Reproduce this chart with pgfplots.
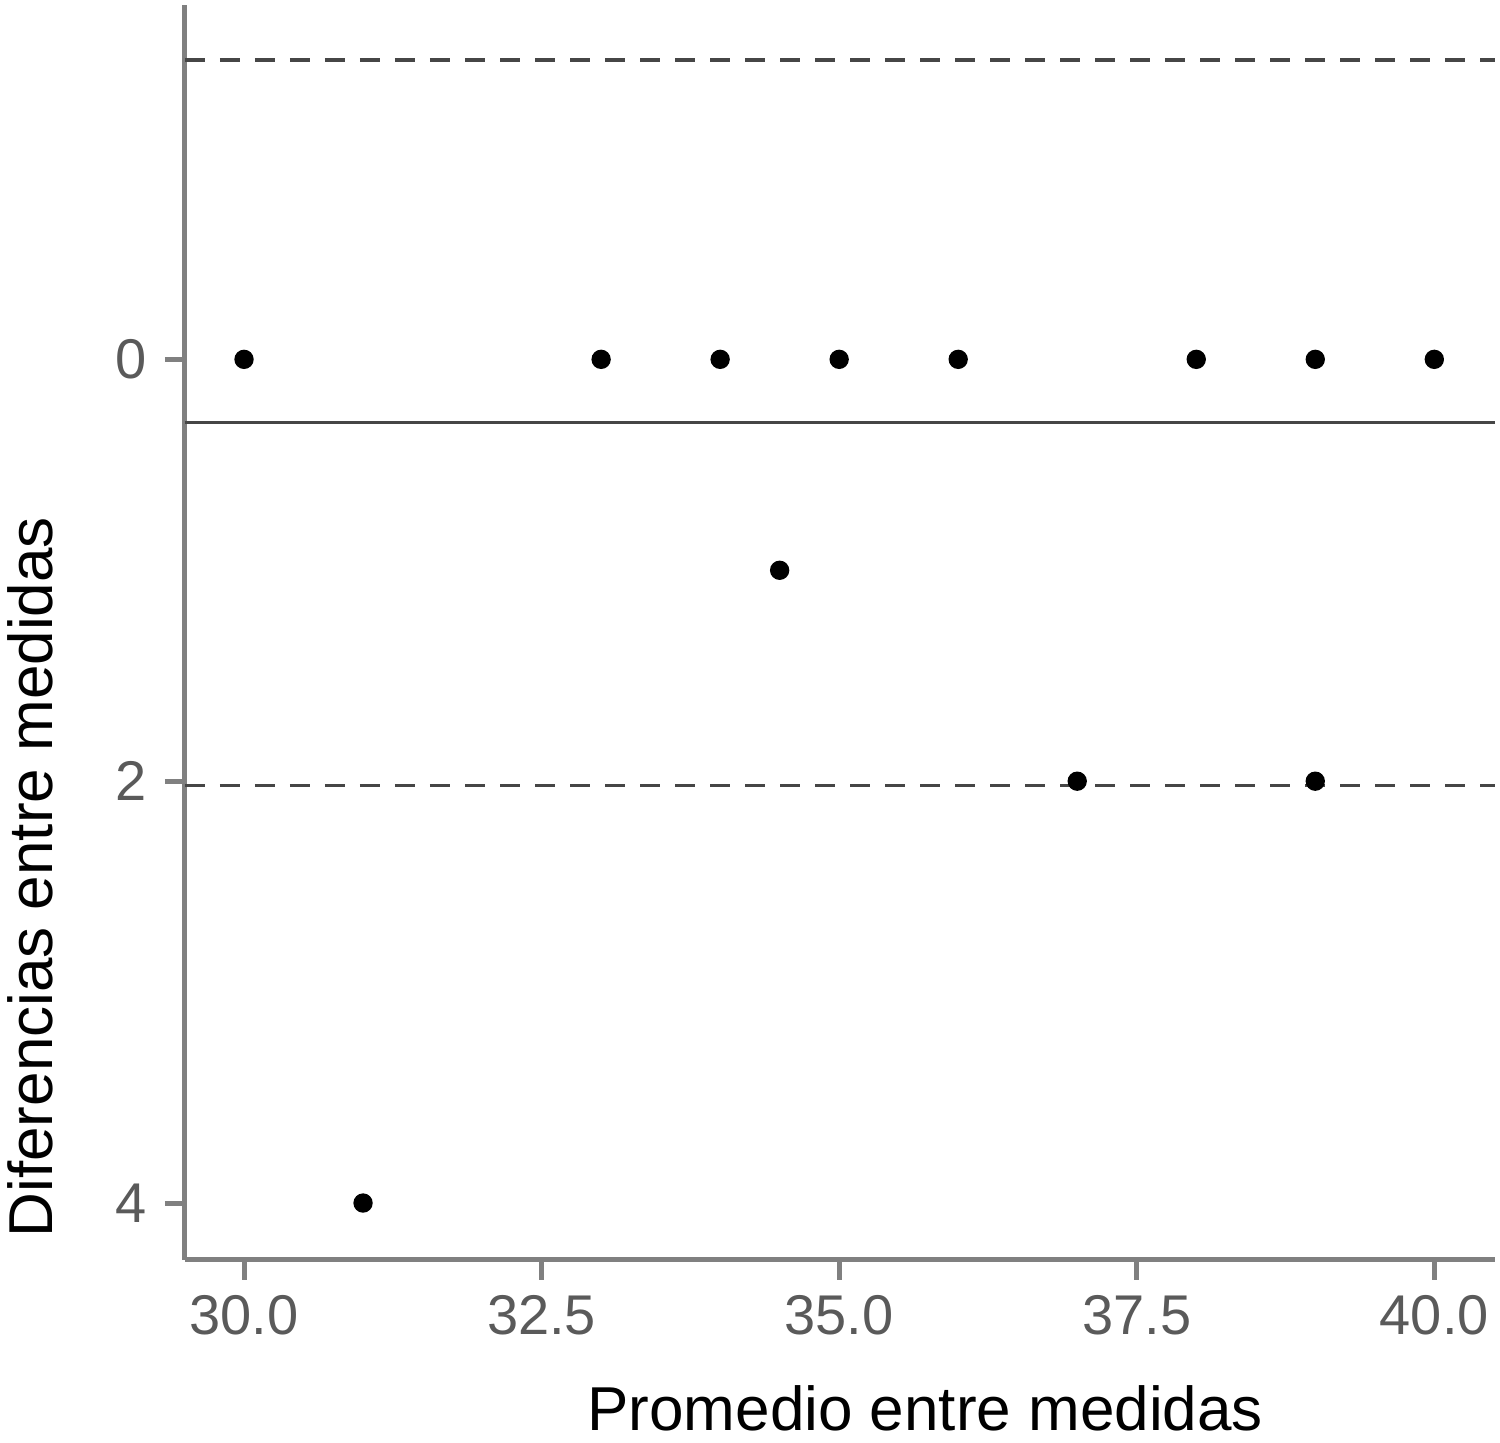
\documentclass[border=0pt]{standalone}
\usepackage{fontspec}
\setmainfont{Liberation Sans}
\usepackage{pgfplots}
\pgfplotsset{compat=1.18}

\definecolor{axisgray}{RGB}{128,128,128}
\definecolor{ticktext}{RGB}{90,90,90}
\definecolor{refline}{RGB}{70,70,70}

\begin{document}
\begin{tikzpicture}
\begin{axis}[
    name=ax,
    at={(0,0)}, anchor=south west,
    scale only axis,
    width=393pt, height=376.5pt,
    xmin=29.504, xmax=40.51,
    ymin=-4.27, ymax=1.68,
    axis lines*=left,
    axis line style={axisgray, line width=1.5pt},
    xtick={30,32.5,35,37.5,40},
    xticklabels={30.0,32.5,35.0,37.5,40.0},
    ytick={-4,-2,0},
    yticklabels={4,2,0},
    tick style={axisgray, line width=1.5pt},
    tick align=outside,
    major tick length=6pt,
    /pgf/number format/assume math mode=true,
    tick label style={ticktext, font=\fontsize{16.8}{18}\selectfont},
    xticklabel style={yshift=-1pt},
    yticklabel style={xshift=-2pt},
    xlabel={Promedio entre medidas},
    ylabel={Diferencias entre medidas},
    label style={black, font=\fontsize{18.6}{22}\selectfont, inner sep=0pt},
    xlabel style={at={(axis description cs:0.565,-0.118)}, anchor=center},
    ylabel style={at={(axis description cs:-0.118,0.305)}, anchor=center, rotate=0},
    clip=false,
]
% reference lines
\addplot[refline, line width=1.1pt, dash pattern=on 6pt off 4.5pt] coordinates {(29.504,1.42) (40.51,1.42)};
\addplot[refline, line width=1.1pt] coordinates {(29.504,-0.30) (40.51,-0.30)};
\addplot[refline, line width=1.1pt, dash pattern=on 6pt off 4.5pt] coordinates {(29.504,-2.02) (40.51,-2.02)};
% points
\addplot[only marks, mark=*, mark size=2.7pt, black] coordinates {
    (30,0) (31,-4) (33,0) (34,0) (34.5,-1) (35,0) (36,0)
    (37,-2) (38,0) (39,0) (39,-2) (40,0)
};
\end{axis}
\pgfresetboundingbox
\path[use as bounding box] (-55.5pt,-54.9pt) rectangle (394.5pt,378pt);
\end{tikzpicture}
\end{document}
